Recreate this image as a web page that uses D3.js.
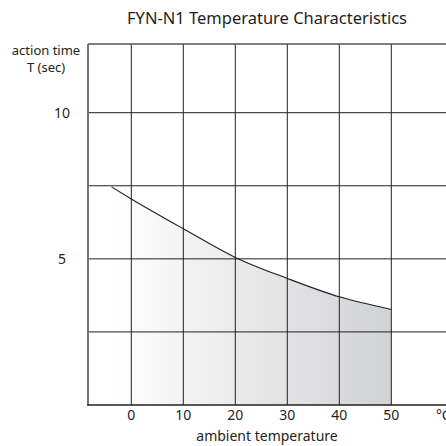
<!DOCTYPE html>
<html><head><meta charset="utf-8">
<script src="https://cdn.jsdelivr.net/npm/d3@7"></script>
<style>html,body{margin:0;padding:0;background:#fff;}svg{display:block;}</style>
</head><body>
<svg id="c" width="446" height="446"></svg>
<script>
const temps = [-3.8, 0, 10, 20, 30, 40, 50];
const times = [7.46, 7.05, 6.03, 5.05, 4.33, 3.70, 3.27];
const xTicks = [0, 10, 20, 30, 40, 50];
const xTickLabels = ["0", "10", "20", "30", "40", "50"];
const yGrid = [2.5, 5, 7.5, 10];
const yTickVals = [5, 10];
const yTickLabels = ["5", "10"];
const title = "FYN-N1 Temperature Characteristics";
const xTitle = "ambient temperature";
const yTitle = ["action time", "T (sec)"];
const unitLabel = "°C";

const svg = d3.select("#c");
const font = "'Noto Sans', sans-serif";
const x = d3.scaleLinear().domain([-8.33, 60]).range([88, 443.3]);
const y = d3.scaleLinear().domain([0, 12.35]).range([405, 44]);
const W = 446;

const data = temps.map((t, i) => ({t, v: times[i]}));

const defs = svg.append("defs");
const g = defs.append("linearGradient").attr("id", "gr").attr("gradientUnits", "userSpaceOnUse")
  .attr("x1", x(-3.8)).attr("x2", x(50)).attr("y1", 0).attr("y2", 0);
g.append("stop").attr("offset", 0).attr("stop-color", "#ffffff");
g.append("stop").attr("offset", 1).attr("stop-color", "#d1d2d4");

svg.append("path").datum(data)
  .attr("d", d3.area().x(d => x(d.t)).y0(y(0)).y1(d => y(d.v)).curve(d3.curveMonotoneX))
  .attr("fill", "url(#gr)");

svg.append("g").selectAll("line").data(xTicks).join("line")
  .attr("x1", d => x(d)).attr("x2", d => x(d)).attr("y1", y(12.35)).attr("y2", y(0))
  .attr("stroke", "#231f20").attr("stroke-width", 1);
svg.append("g").selectAll("line").data(yGrid).join("line")
  .attr("x1", x(-8.33)).attr("x2", W).attr("y1", d => y(d)).attr("y2", d => y(d))
  .attr("stroke", "#231f20").attr("stroke-width", 1);
svg.append("line").attr("x1", x(-8.33)).attr("x2", W).attr("y1", y(12.35)).attr("y2", y(12.35))
  .attr("stroke", "#555").attr("stroke-width", 1.5);
svg.append("line").attr("x1", x(-8.33)).attr("x2", x(-8.33)).attr("y1", y(12.35)).attr("y2", y(0))
  .attr("stroke", "#666").attr("stroke-width", 1.8);
svg.append("line").attr("x1", x(-8.33) - 0.9).attr("x2", W).attr("y1", y(0)).attr("y2", y(0))
  .attr("stroke", "#231f20").attr("stroke-width", 1.5);

svg.append("path").datum(data)
  .attr("d", d3.line().x(d => x(d.t)).y(d => y(d.v)).curve(d3.curveMonotoneX))
  .attr("fill", "none").attr("stroke", "#231f20").attr("stroke-width", 1.1);

svg.append("g").selectAll("text").data(xTicks).join("text")
  .attr("x", d => x(d)).attr("y", 420).attr("text-anchor", "middle")
  .attr("font-family", font).attr("font-size", 14).attr("fill", "#231f20")
  .text((d, i) => xTickLabels[i]);
svg.append("text").attr("x", x(60)).attr("y", 420).attr("text-anchor", "middle")
  .attr("font-family", font).attr("font-size", 14).attr("fill", "#231f20").text(unitLabel);

svg.append("g").selectAll("text").data(yTickVals).join("text")
  .attr("x", 62).attr("y", d => y(d) + 5).attr("text-anchor", "middle")
  .attr("font-family", font).attr("font-size", 14).attr("fill", "#231f20")
  .text((d, i) => yTickLabels[i]);

svg.append("text").attr("x", 267).attr("y", 24).attr("text-anchor", "middle")
  .attr("font-family", font).attr("font-size", 16.5).attr("fill", "#231f20").text(title);
svg.append("text").attr("x", 267).attr("y", 441).attr("text-anchor", "middle")
  .attr("font-family", font).attr("font-size", 14).attr("fill", "#231f20").text(xTitle);
yTitle.forEach((t, i) => {
  svg.append("text").attr("x", 46).attr("y", 55 + i * 17).attr("text-anchor", "middle")
    .attr("font-family", font).attr("font-size", 13).attr("fill", "#231f20").text(t);
});
</script>
</body></html>
